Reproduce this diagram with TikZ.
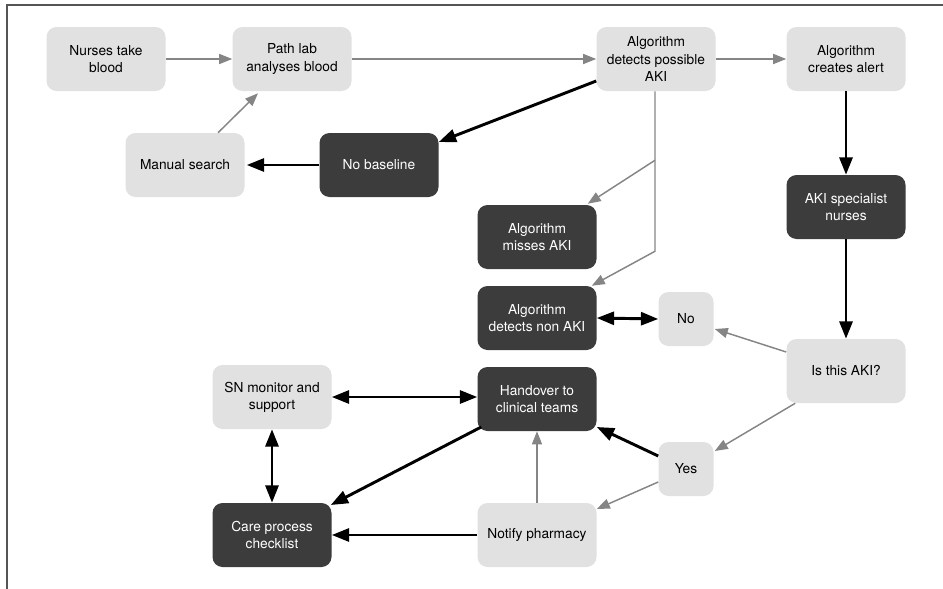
\documentclass[tikz,border=0pt]{standalone}
\usepackage{fontspec}
\setmainfont{TeX Gyre Heros}
\usetikzlibrary{arrows.meta,calc}
\definecolor{lightbox}{HTML}{E1E1E1}
\definecolor{darkbox}{HTML}{3C3C3C}
\definecolor{grayline}{HTML}{858585}
\definecolor{framecol}{HTML}{555555}
\begin{document}
\begin{tikzpicture}[x=0.75pt,y=-0.75pt,
 box/.style={rounded corners=7.5pt, minimum width=89.25pt, minimum height=48pt, inner sep=0pt, align=center, font=\fontsize{10.3}{12.8}\selectfont},
 lightnode/.style={box, fill=lightbox, text=black},
 darknode/.style={box, fill=darkbox, text=white},
 smallnode/.style={lightnode, minimum width=41.25pt, minimum height=40.5pt},
 thinarrow/.style={draw=grayline, line width=1.1pt, -{Triangle[length=9.75pt,width=7.5pt]}},
 thickarrow/.style={draw=black, line width=2.2pt, -{Triangle[length=13pt,width=9.75pt]}},
 thickdouble/.style={draw=black, line width=2.2pt, {Triangle[length=13pt,width=9.75pt]}-{Triangle[length=13pt,width=9.75pt]}},
 frameline/.style={draw=framecol, line width=0.9pt}
]
\useasboundingbox (0,0) rectangle (943,589);
\draw[frameline] (7,589) -- (7,5) -- (943,5);

% nodes
\node[lightnode] (nurses) at (106,59) {Nurses take\\blood};
\node[lightnode] (pathlab) at (292,59) {Path lab\\analyses blood};
\node[lightnode] (algo) at (656,59) {Algorithm\\detects possible\\AKI};
\node[lightnode] (alert) at (846,59) {Algorithm\\creates alert};
\node[lightnode] (manual) at (185,165) {Manual search};
\node[darknode] (nobase) at (379,165) {No baseline};
\node[darknode] (aksn) at (846,207) {AKI specialist\\nurses};
\node[darknode] (misses) at (537,237) {Algorithm\\misses AKI};
\node[darknode] (nonaki) at (537,318) {Algorithm\\detects non AKI};
\node[smallnode] (no) at (686,319) {No};
\node[lightnode] (isaki) at (846,371) {Is this AKI?};
\node[darknode] (hand) at (537,399) {Handover to\\clinical teams};
\node[smallnode] (yes) at (686,469) {Yes};
\node[lightnode] (notify) at (537,535) {Notify pharmacy};
\node[lightnode] (sn) at (272,397) {SN monitor and\\support};
\node[darknode] (care) at (272,535) {Care process\\checklist};

% branch points
\coordinate (br1) at ($(algo.south)+(-1,69)$);
\coordinate (br2) at ($(algo.south)+(-1,160)$);

% connectors
\draw[thinarrow] (nurses.east) -- (pathlab.west);
\draw[thinarrow] (pathlab.east) -- (algo.west);
\draw[thinarrow] (algo.east) -- (alert.west);
\draw[thinarrow] ($(manual.north)+(33,0)$) -- ($(pathlab.south)+(-34,2)$);
\draw[thickarrow] ($(algo.west)+(0,22)$) -- ($(nobase.east)+(0,-23)$);
\draw[thickarrow] (nobase.west) -- ($(manual.east)+(2,0)$);
\draw[thinarrow] ($(algo.south)+(-1,0)$) -- (br2) -- ($(nonaki.north east)+(-5,0)$);
\draw[thinarrow] (br1) -- ($(misses.north east)+(-9,-1)$);
\draw[thickarrow] (alert.south) -- (aksn.north);
\draw[thickarrow] (aksn.south) -- (isaki.north);
\draw[thinarrow] ($(isaki.west)+(0,-19)$) -- ($(no.east)+(1,10)$);
\draw[thickdouble] (nonaki.east) -- (no.west);
\draw[thinarrow] ($(isaki.south west)+(9,0)$) -- ($(yes.east)+(1,-18)$);
\draw[thickarrow] ($(yes.west)+(0,-13)$) -- ($(hand.east)+(0,28)$);
\draw[thinarrow] ($(yes.west)+(0,13)$) -- ($(notify.east)+(0,-26)$);
\draw[thinarrow] (notify.north) -- (hand.south);
\draw[thickarrow] (notify.west) -- (care.east);
\draw[thickarrow] ($(hand.west)+(4,28)$) -- ($(care.east)+(-1,-30)$);
\draw[thickdouble] (sn.east) -- (sn.east -| hand.west);
\draw[thickdouble] (sn.south) -- (care.north);
\end{tikzpicture}
\end{document}
